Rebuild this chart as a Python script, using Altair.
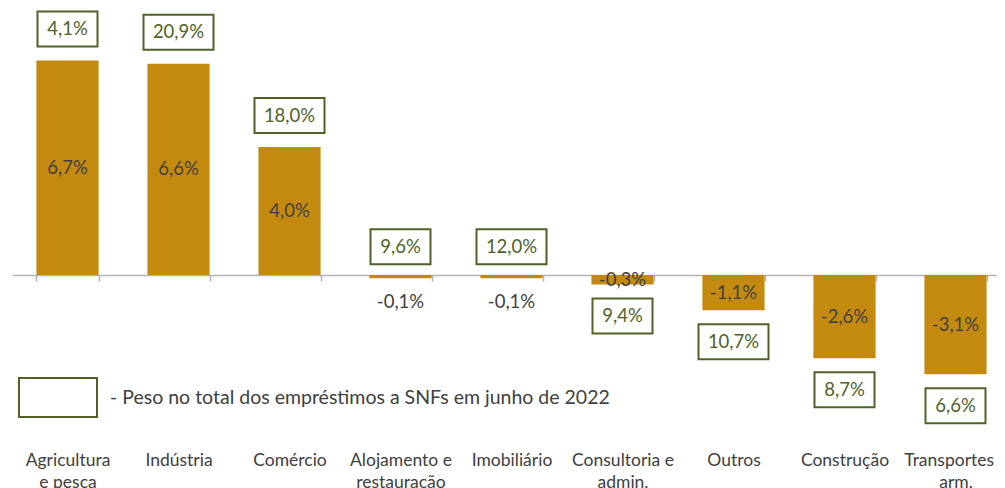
import altair as alt
import pandas as pd

categories = ["Agricultura\ne pesca", "Indústria", "Comércio", "Alojamento e\nrestauração",
              "Imobiliário", "Consultoria e\nadmin.", "Outros", "Construção", "Transportes e\narm."]
growth = [6.7, 6.6, 4.0, -0.1, -0.1, -0.3, -1.1, -2.6, -3.1]
weight = [4.1, 20.9, 18.0, 9.6, 12.0, 9.4, 10.7, 8.7, 6.6]
legend_text = "- Peso no total dos empréstimos a SNFs em junho de 2022"

df = pd.DataFrame({"cat": categories, "growth": growth, "weight": weight})

FONT = "Lato"
BAR = "#C48A10"
GREEN = "#4F6228"
GREY_TXT = "#404040"
AXIS_GREY = "#B3B3B3"
LBL_SIZE = 18.5

base = alt.Chart(df).transform_calculate(
    g_lbl="(datum.growth < 0 ? '-' : '') + replace(format(abs(datum.growth), '.1f'), '.', ',') + '%'",
    w_lbl="replace(format(datum.weight, '.1f'), '.', ',') + '%'",
    half="datum.growth / 2",
    legend="'" + legend_text + "'",
)

x_enc = alt.X(
    "cat:N", sort=categories, title=None,
    scale=alt.Scale(range=[0, 999], paddingInner=0.44, paddingOuter=0.22),
    axis=alt.Axis(orient="bottom", offset=-160, domainColor=AXIS_GREY, domainWidth=1.5,
                  tickColor=AXIS_GREY, tickWidth=1.5, tickSize=6, tickBand="extent",
                  labelAngle=0, labelPadding=170, labelFont=FONT, labelFontSize=17.5,
                  labelColor=GREY_TXT, labelLineHeight=22, labelOverlap=False,
                  labelBound=False, labelLimit=300,
                  labelExpr="split(datum.label, '\\n')"),
)
y_scale = alt.Scale(domain=[-5, 8.34375], nice=False, zero=False)

bars = base.mark_bar(color=BAR).encode(
    x=x_enc, y=alt.Y("growth:Q", scale=y_scale, axis=None)
)

val_lbl = base.transform_filter("datum.growth != -0.1").mark_text(
    font=FONT, fontSize=LBL_SIZE, color=GREY_TXT
).encode(x=x_enc, y=alt.Y("half:Q", scale=y_scale, axis=None), text="g_lbl:N")

val_lbl_small = base.transform_filter("datum.growth == -0.1").mark_text(
    font=FONT, fontSize=LBL_SIZE, color=GREY_TXT, dy=25
).encode(x=x_enc, y=alt.Y("half:Q", scale=y_scale, axis=None), text="g_lbl:N")

legend = alt.Legend(title=None, orient="none", legendX=6, legendY=349.5,
                    symbolType="M-1,-0.5H1V0.5H-1Z", symbolSize=6084,
                    symbolStrokeWidth=2, symbolFillColor="white",
                    labelFont=FONT, labelFontSize=19.5, labelColor=GREY_TXT,
                    labelOffset=12, labelLimit=800, padding=0)


def boxes(cond, width, above):
    o1, o2 = (-49, -14) if above else (14, 49)
    return base.transform_filter(cond).mark_bar(
        width=width, fill="white", strokeWidth=2, yOffset=o1, y2Offset=o2
    ).encode(
        x=x_enc, y=alt.Y("growth:Q", scale=y_scale, axis=None), y2="growth:Q",
        stroke=alt.Stroke("legend:N", scale=alt.Scale(range=[GREEN]), legend=legend),
    )


def box_text(cond, above):
    return base.transform_filter(cond).mark_text(
        font=FONT, fontSize=LBL_SIZE, color=GREEN, dy=-31.5 if above else 31.5
    ).encode(x=x_enc, y=alt.Y("growth:Q", scale=y_scale, axis=None), text="w_lbl:N")


ABOVE = "datum.growth > -0.2"
BELOW = "datum.growth <= -0.2"
LONG = "length(datum.w_lbl) >= 5"
SHORT = "length(datum.w_lbl) < 5"

chart = alt.layer(
    bars, val_lbl, val_lbl_small,
    boxes(f"({ABOVE}) && ({SHORT})", 60, True),
    boxes(f"({ABOVE}) && ({LONG})", 70, True),
    boxes(f"({BELOW}) && ({SHORT})", 60, False),
    boxes(f"({BELOW}) && ({LONG})", 70, False),
    box_text(ABOVE, True), box_text(BELOW, False),
).properties(
    width=985, height=427,
    padding={"left": 4, "top": 0, "right": 0, "bottom": 53},
    autosize=alt.AutoSizeParams(type="none"),
).configure_view(stroke=None)

chart.save("out.html", embed_options={"renderer": "svg", "actions": False})
